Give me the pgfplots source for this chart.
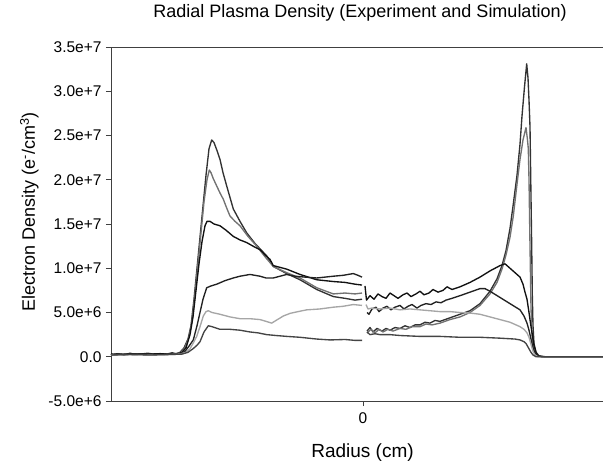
\documentclass[border=0pt]{standalone}
\usepackage{pgfplots}
\pgfplotsset{compat=1.18}
\usepackage{fontspec}
\setmainfont{Liberation Sans}
\definecolor{cA}{HTML}{333333}
\definecolor{cB}{HTML}{727272}
\definecolor{cC}{HTML}{111111}
\definecolor{cD}{HTML}{222222}
\definecolor{cE}{HTML}{A6A6A6}
\definecolor{cF}{HTML}{444444}
\definecolor{axc}{HTML}{404040}
\begin{document}
\begin{tikzpicture}
\path[use as bounding box] (-111bp,-65bp) rectangle (492bp,401bp);
\begin{axis}[
  at={(0,0)}, anchor=south west,
  scale only axis, width=492bp, height=354bp,
  xmin=111, xmax=603, ymin=-5, ymax=35,
  axis x line=box, axis y line=left,
  axis line style={axc, line width=0.8bp, -},
  every tick/.style={axc, line width=0.8bp},
  tick align=outside, major tick length=5bp,
  xtick pos=bottom,
  xtick={363}, xticklabels={0},
  ytick={-5,0,5,10,15,20,25,30,35},
  yticklabels={-5.0e+6,0.0,5.0e+6,1.0e+7,1.5e+7,2.0e+7,2.5e+7,3.0e+7,3.5e+7},
  ticklabel style={font=\fontsize{15.5bp}{18bp}\selectfont, text=black},
  yticklabel style={xshift=-1bp},
  xticklabel style={yshift=-3bp},
  unbounded coords=jump,
  clip=false,
  every axis plot/.append style={line width=1.35bp, line join=round},
]
% Series A (dark, tallest right peak)
\addplot[cA] table {
x y
111 0.25
118 0.35
124 0.2
130 0.4
136 0.25
140 0.3
148 0.4
155 0.25
160 0.35
167 0.3
172 0.45
176 0.35
180 0.5
184 1.0
188 2.0
191 3.5
194 6.5
197 10
200 13.5
203 17
206 20.5
209 23.5
211.7 24.5
214 24.2
217 23.3
220 22.3
223 20.8
226.7 19.3
230 18.0
233.3 16.7
240 15.3
246.7 14.0
255 12.8
266.7 11.4
273.3 10.2
286.7 9.4
300 8.7
316.7 7.6
333.3 6.8
345 6.6
355 6.4
362 6.5
363 nan
367 2.9
370 3.3
373 2.8
377 3.2
382 2.9
386 3.2
390 3.0
395 3.3
400 3.2
405 3.5
410 3.3
415 3.6
420 3.6
425 3.9
430 3.8
435 4.1
440 4.0
450 4.4
460 4.8
470 5.2
480 6.0
490 7.4
497 8.8
502 10.3
506 12.0
510 14.5
513 17.0
517 20.5
520 24.0
522 27.2
524.5 30.5
526.7 33.1
528 31.5
529 29
530 26
531 18
531.7 12.5
532.3 7
533 3.5
534 1.5
536 0.5
539 0.1
545 0
603 0
};
% Series B (medium gray)
\addplot[cB] table {
x y
111 0.2
120 0.25
130 0.3
140 0.3
150 0.25
160 0.3
170 0.3
177 0.35
181 0.5
185 1.0
189 2.2
192 4
195 7
198 10.5
201 14
204 17.5
207 20.0
209.3 21.1
211 20.8
213 20.2
216.7 19.3
220 18.5
223.3 17.8
226.7 16.8
230 15.9
235 15.3
240 14.8
248 13.6
256.7 12.5
265 11.3
273.3 10.2
286.7 9.5
300 8.9
316.7 7.8
333.3 7.1
345 7.2
355 7.1
362 7.2
363 nan
367 2.7
371 3.1
375 2.7
379 3.1
383 2.8
388 3.1
393 2.9
400 3.2
406 3.1
412 3.4
420 3.4
426 3.7
432 3.6
440 3.8
450 4.2
460 4.5
470 5.0
480 5.8
490 7.1
497 8.4
502 9.9
506 11.5
510 13.5
513.3 15.9
517 19.5
520 22.3
523 24.5
526 25.9
527.5 24.5
528.3 23.5
529 20
530 12.5
531 5.5
532 2.5
533.5 1.0
535 0.4
538 0.1
545 0
603 0
};
% Series C (black)
\addplot[cC] table {
x y
111 0.3
120 0.25
130 0.35
140 0.3
150 0.3
160 0.35
170 0.3
178 0.35
182 0.5
186 1.0
190 2.5
193 4.5
196 7.5
199 10.5
202 13
205 14.8
207 15.3
210 15.3
214 15.0
220 14.8
226 14.3
233.3 13.6
240 13.2
246.7 12.9
253 12.5
260 12.1
266 11.4
270 11.0
273.3 10.3
280 10.1
286.7 9.9
300 9.3
316.7 8.7
333.3 8.5
345 8.4
355 8.2
362 8.1
363 nan
365 8.0
366.5 6.4
370 6.9
374 6.5
378 7.1
382 6.8
386 6.6
390 7.2
394 6.9
398 6.6
403 7.0
407 7.2
411 6.8
416 7.1
420 7.4
424 7.0
429 7.2
433 7.6
438 7.3
443 7.5
447 7.9
452 7.6
460 7.9
470 8.4
480 9.0
490 9.7
500 10.3
505 10.5
510 10.0
515 9.5
520 9.0
523 8.2
525 7.3
527 6.5
529 5.0
530.5 3.8
532 2.7
534 1.3
536 0.5
538 0.1
542 0
603 0
};
% Series D (dark)
\addplot[cD] table {
x y
111 0.2
120 0.3
130 0.25
140 0.3
150 0.3
160 0.25
170 0.3
180 0.35
185 0.6
189 1.2
193.3 1.9
197 3.5
200 5.0
203 6.5
206.7 7.8
211 8.0
216.7 8.2
225 8.6
233.3 8.9
240 9.1
250 9.3
260 9.1
266 8.9
273.3 8.9
280 9.1
286.7 9.3
295 9.1
305 9.0
316.7 8.9
325 9.0
333.3 9.1
343 9.2
353.3 9.4
358 9.2
362 9.0
363 nan
367 5.0
369 4.8
372 5.4
376 5.6
379 5.1
383 5.5
387 5.7
391 5.3
395 5.6
400 5.8
404 5.4
408 5.7
412 5.9
417 5.5
421 5.8
426 6.0
431 5.9
436 6.2
441 6.1
446 6.4
452 6.6
460 6.9
470 7.3
480 7.7
485 7.7
490 7.4
500 6.7
510 6.0
520 5.3
524 4.6
527 3.8
529 3.0
531 2.0
533 1.0
535 0.4
538 0.1
542 0
603 0
};
% Series E (light gray)
\addplot[cE] table {
x y
111 0.2
130 0.25
150 0.2
170 0.25
180 0.3
186 0.5
190 0.9
193 1.5
196.7 2.3
200 3.4
203.3 4.6
206 5.1
208.3 5.2
212 5.0
220 4.8
230 4.5
240 4.3
250 4.3
260 4.2
266 4.0
271.7 3.8
276 4.1
283.3 4.6
290 4.9
298 5.1
306.7 5.3
320 5.4
333.3 5.6
343 5.7
353.3 5.9
362 5.8
363 nan
366 5.9
368 5.4
372 5.5
380 5.4
390 5.5
400 5.3
410 5.4
420 5.3
430 5.2
440 5.1
450 5.1
460 5.0
473 4.9
480 4.8
490 4.5
500 4.2
510 3.9
520 3.4
524 3.1
527 2.7
529 2.2
531 1.4
533 0.6
535 0.2
538 0
603 0
};
% Series F (lowest)
\addplot[cF] table {
x y
111 0.2
130 0.25
150 0.2
170 0.25
182 0.3
188 0.5
193 0.9
197 1.3
200 1.7
204 2.8
208.3 3.5
212 3.4
220 3.1
230 3.1
240 3.0
250 2.8
258 2.7
266.7 2.5
276 2.4
286.7 2.3
300 2.2
316.7 2.0
330 1.9
345 1.95
355 1.85
362 1.85
363 nan
367 2.8
370 2.5
375 2.6
380 2.5
390 2.5
400 2.4
420 2.3
440 2.3
460 2.2
480 2.2
500 2.1
515 2.0
520 1.9
524 1.7
526 1.5
529 0.9
531 0.5
533 0.2
536 0
603 0
};
\end{axis}
\node[anchor=base, font=\fontsize{18bp}{21bp}\selectfont] at (249bp,383bp) {Radial Plasma Density (Experiment and Simulation)};
\node[anchor=base, font=\fontsize{19bp}{22bp}\selectfont] at (251.5bp,-56bp) {Radius (cm)};
\node[anchor=base, rotate=90, font=\fontsize{18bp}{21bp}\selectfont] at (-76bp,189bp) {Electron Density (e\textsuperscript{-}/cm\textsuperscript{3})};
\end{tikzpicture}
\end{document}
